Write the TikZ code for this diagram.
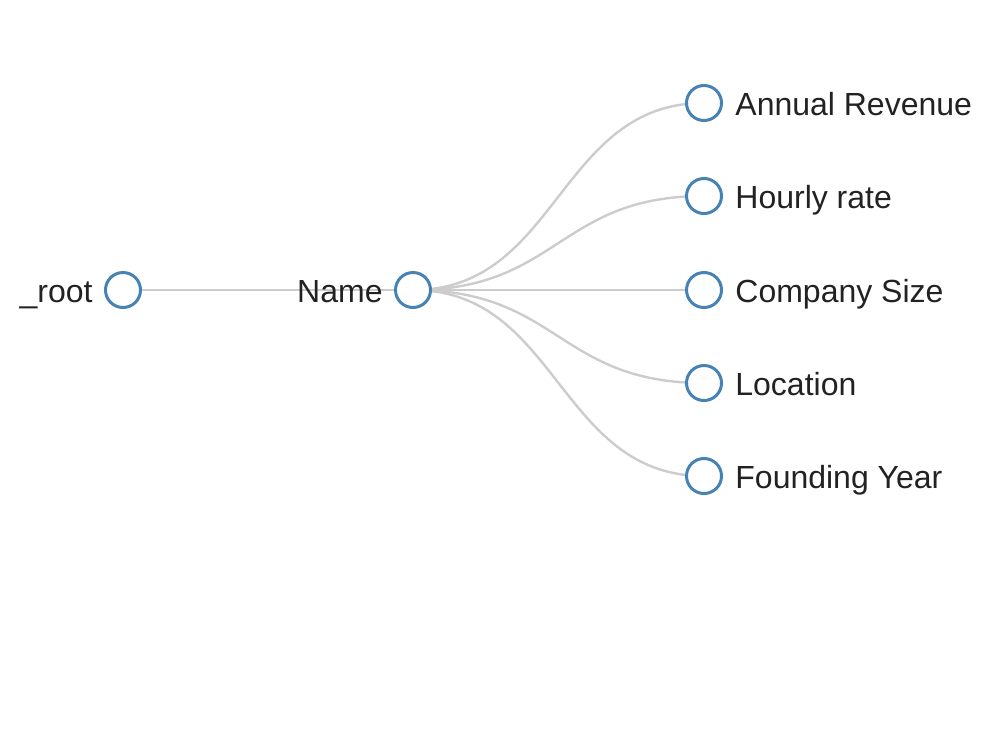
\documentclass[tikz,border=0pt]{standalone}
\usepackage{fontspec}
\setmainfont{Liberation Sans}
\usetikzlibrary{positioning, backgrounds, calc}
\definecolor{nodeblue}{HTML}{4682B4}
\definecolor{linkgray}{HTML}{CCCCCC}
\definecolor{labelink}{HTML}{222222}

\begin{document}
\begin{tikzpicture}[x=0.5pt, y=-0.5pt,
  treenode/.style={circle, draw=nodeblue, line width=1.5pt, fill=white, minimum size=17.5pt, inner sep=0pt},
  treelabel/.style={font=\fontsize{16}{19}\selectfont, text=labelink, inner sep=0pt},
  treelink/.style={draw=linkgray, line width=1.2pt}]
\useasboundingbox (0,0) rectangle (1000,750);

% Tree nodes
\node[treenode] (root) at (123,290) {};
\node[treenode] (name) at (413,290) {};
\foreach \id/\yy in {revenue/103, rate/196, size/290, location/383, founding/476} {
  \node[treenode] (\id) at (704,\yy) {};
}

% Labels
\node[treelabel, anchor=base east] (rootlabel) at ($(root.center)+(-30,12)$) {\_root};
\node[treelabel, anchor=base east] (namelabel) at ($(name.center)+(-30,12)$) {Name};
\foreach \id/\txt in {revenue/Annual Revenue, rate/Hourly rate, size/Company Size, location/Location, founding/Founding Year} {
  \node[treelabel, anchor=base west] (\id label) at ($(\id.center)+(31,12)$) {\txt};
}

% Links
\begin{scope}[on background layer]
\draw[treelink] (root.center) -- (name.center);
\foreach \id in {revenue, rate, size, location, founding} {
  \draw[treelink] (name.center) to[out=0, in=180, distance=72.75pt] (\id.center);
}
\end{scope}
\end{tikzpicture}
\end{document}
